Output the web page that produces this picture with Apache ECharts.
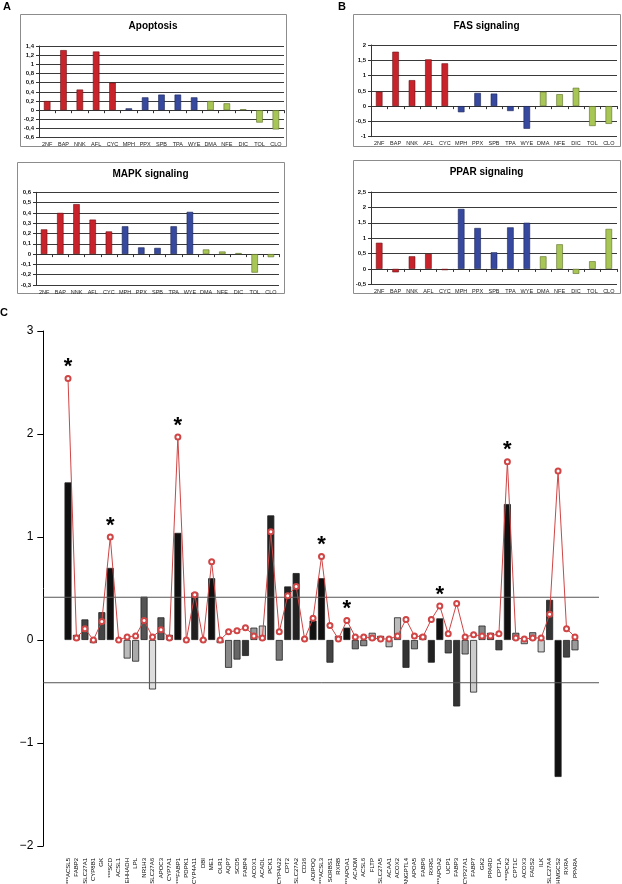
<!DOCTYPE html>
<html>
<head>
<meta charset="utf-8">
<script src="https://cdn.jsdelivr.net/npm/echarts@6/dist/echarts.min.js"></script>
<style>
html, body { margin: 0; padding: 0; background: #fff; }
#chart { width: 622px; height: 884px; }
</style>
</head>
<body>
<div id="chart"></div>
<script>
// compounds (same order in the four pathway panels), 0 = red, 1 = blue, 2 = green
const compounds = ['2NF', 'BAP', 'NNK', 'AFL', 'CYC', 'MPH', 'PPX', 'SPB', 'TPA', 'WYE', 'DMA', 'NFE', 'DIC', 'TOL', 'CLO'];
const compoundGroup = [0, 0, 0, 0, 0, 1, 1, 1, 1, 1, 2, 2, 2, 2, 2];

const apoptosis = [0.2, 1.31, 0.45, 1.28, 0.6, 0.04, 0.28, 0.34, 0.34, 0.28, 0.2, 0.15, 0.02, -0.27, -0.42];
const mapk = [0.24, 0.4, 0.485, 0.335, 0.22, 0.27, 0.065, 0.06, 0.27, 0.41, 0.045, 0.025, 0.01, -0.18, -0.03];
const fas = [0.47, 1.78, 0.85, 1.53, 1.4, -0.2, 0.43, 0.41, -0.16, -0.74, 0.47, 0.39, 0.6, -0.65, -0.58];
const ppar = [0.85, -0.11, 0.41, 0.49, -0.04, 1.95, 1.33, 0.54, 1.35, 1.5, 0.41, 0.8, -0.16, 0.25, 1.3];

// panel C, genes (*** = marked with a star)
const genes = ['***ACSL5', 'FABP2', 'SLC27A1', 'CYP8B1', 'GK', '***SCD', 'ACSL1', 'EHHADH', 'LPL', 'NR1H3',
  'SLC27A6', 'APOC3', 'CYP7A1', '***FABP1', 'PDPK1', 'CYP4A11', 'DBI', 'ME1', 'OLR1', 'AQP7',
  'SCD5', 'FABP4', 'ACOX1', 'ACADL', 'PCK1', 'CYP4A22', 'CPT2', 'SLC27A2', 'CD36', 'ADIPOQ',
  '***ACSL3', 'SORBS1', 'RXRB', '***APOA1', 'ACADM', 'ACSL6', 'FLTP', 'SLC27A5', 'ACAA1', 'ACOX2',
  'ANGPTL4', 'APOA5', 'FABP6', 'RXRG', '***APOA2', 'UCP1', 'FABP3', 'CYP27A1', 'FABP7', 'GK2',
  'PPARD', 'CPT1A', '***PCK2', 'CPT1C', 'ACOX3', 'FADS2', 'ILK', 'SLC27A4', 'HMGCS2', 'RXRA', 'PPARA'];
const geneBars = [1.53, 0.05, 0.2, -0.03, 0.27, 0.7, -0.01, -0.18, -0.21, 0.42, -0.48, 0.22, 0.05, 1.04,
  0.01, 0.46, 0.0, 0.6, -0.03, -0.27, -0.19, -0.155, 0.12, 0.14, 1.21, -0.2, 0.52, 0.65, 0.02, 0.19, 0.6, -0.22,
  0.04, 0.12, -0.09, -0.06, 0.07, 0.04, -0.07, 0.22, -0.27, -0.09, 0.05, -0.22, 0.21, -0.13, -0.645, -0.14, -0.51,
  0.14, 0.07, -0.1, 1.32, 0.07, -0.04, 0.075, -0.12, 0.39, -1.33, -0.17, -0.1];
const geneLine = [2.54, 0.02, 0.11, 0.0, 0.18, 1.0, 0.0, 0.03, 0.04, 0.19, 0.03, 0.1, 0.02, 1.97,
  0.0, 0.44, 0.0, 0.76, 0.0, 0.08, 0.09, 0.12, 0.04, 0.02, 1.05, 0.08, 0.43, 0.52, 0.01, 0.21, 0.81, 0.14,
  0.01, 0.19, 0.03, 0.03, 0.02, 0.01, 0.01, 0.04, 0.2, 0.04, 0.03, 0.2, 0.33, 0.06, 0.355, 0.03, 0.05,
  0.04, 0.04, 0.06, 1.73, 0.02, 0.01, 0.02, 0.02, 0.25, 1.64, 0.11, 0.03];
const thresholds = [0.415, -0.415];

// gray fill of each gene bar
const barShades = ['#111', '#333', '#444', '#aaa', '#444', '#111', '#999', '#bbb', '#aaa', '#555',
  '#ddd', '#555', '#444', '#111', '#333', '#222', '#333', '#111', '#ccc', '#888',
  '#666', '#333', '#999', '#ccc', '#222', '#777', '#222', '#222', '#333', '#111',
  '#111', '#444', '#bbb', '#111', '#777', '#888', '#bbb', '#999', '#bbb', '#bbb',
  '#333', '#888', '#444', '#222', '#111', '#555', '#333', '#999', '#ccc', '#888',
  '#555', '#444', '#111', '#888', '#bbb', '#999', '#ccc', '#333', '#111', '#444', '#999'];

const groupColors = ['#c8232b', '#36499e', '#a8c656'];
const groupBorders = ['#6a1014', '#1b2555', '#5b6d26'];
const FONT = '"Liberation Sans", Arial, sans-serif';

const grids = [], xAxes = [], yAxes = [], series = [], titles = [], graphics = [];

const comma = v => String(Math.round(v * 100) / 100).replace('.', ',');

function smallPanel(name, values, box, plot, yMin, yMax, step) {
  const idx = grids.length;
  grids.push({ left: plot.x, top: plot.y, width: plot.w, height: plot.h, outerBoundsMode: 'none' });
  xAxes.push({
    gridIndex: idx, type: 'category', data: compounds,
    axisLine: { onZero: true, lineStyle: { color: '#333', width: 1 } },
    axisTick: { show: true, length: 3, lineStyle: { color: '#333' } },
    axisLabel: { fontSize: 5.5, margin: 4, color: '#222', interval: 0, fontFamily: FONT }
  });
  yAxes.push({
    gridIndex: idx, type: 'value', min: yMin, max: yMax, interval: step,
    axisLine: { show: true, lineStyle: { color: '#333', width: 1 } },
    axisTick: { show: true, length: 3, lineStyle: { color: '#333' } },
    splitLine: { show: true, lineStyle: { color: '#3a3a3a', width: 1 } },
    axisLabel: { fontSize: 6, fontWeight: 'bold', color: '#111', margin: 5, fontFamily: FONT, formatter: comma }
  });
  series.push({
    type: 'bar', xAxisIndex: idx, yAxisIndex: idx, barWidth: '40%',
    data: values.map((v, i) => ({
      value: v,
      itemStyle: { color: groupColors[compoundGroup[i]], borderColor: groupBorders[compoundGroup[i]], borderWidth: 0.6 }
    }))
  });
  titles.push({
    text: name, left: box.x + box.w / 2, top: box.y + 7, textAlign: 'center', padding: 0,
    textStyle: { fontSize: 10, fontWeight: 'bold', color: '#000', fontFamily: FONT }
  });
  graphics.push({
    type: 'rect', shape: { x: box.x + 0.5, y: box.y + 0.5, width: box.w, height: box.h },
    style: { fill: 'none', stroke: '#8c8c8c', lineWidth: 1 }
  });
}

smallPanel('Apoptosis', apoptosis, { x: 20, y: 14, w: 266, h: 132 }, { x: 39, y: 46, w: 245, h: 91.7 }, -0.6, 1.4, 0.2);
smallPanel('MAPK signaling', mapk, { x: 17, y: 162, w: 267, h: 131 }, { x: 36, y: 192.3, w: 243, h: 92.7 }, -0.3, 0.6, 0.1);
smallPanel('FAS signaling', fas, { x: 353, y: 14, w: 267, h: 132 }, { x: 371, y: 45, w: 246, h: 91.7 }, -1, 2, 0.5);
smallPanel('PPAR signaling', ppar, { x: 353, y: 160, w: 267, h: 133 }, { x: 371, y: 192, w: 246, h: 92.3 }, -0.5, 2.5, 0.5);

// panel C: grid 4 holds the bars (one band per gene), grid 5 the axis and threshold lines
grids.push({ left: 63.8, right: 42.8, top: 331, bottom: 38, outerBoundsMode: 'none' });
grids.push({ left: 43.3, right: 23, top: 331, bottom: 38, outerBoundsMode: 'none' });

xAxes.push({
  gridIndex: 4, type: 'category', data: genes,
  axisLine: { show: false, onZero: false }, axisTick: { show: false },
  axisLabel: { rotate: 90, fontSize: 6, interval: 0, margin: 12, color: '#000', fontFamily: FONT }
});
yAxes.push({ gridIndex: 4, type: 'value', min: -2, max: 3, interval: 1, show: false });

xAxes.push({ gridIndex: 5, type: 'value', min: 0, max: 1, show: false });
yAxes.push({
  gridIndex: 5, type: 'value', min: -2, max: 3, interval: 1,
  axisLine: { show: true, lineStyle: { color: '#000', width: 1 } },
  axisTick: { show: true, length: 6, lineStyle: { color: '#000' } },
  splitLine: { show: false },
  axisLabel: { fontSize: 12, color: '#000', margin: 10, fontFamily: FONT, formatter: v => String(v).replace('-', '\u2212') }
});

series.push({
  type: 'bar', xAxisIndex: 4, yAxisIndex: 4, barWidth: '83%', z: 2,
  data: geneBars.map((v, i) => ({ value: v, itemStyle: { color: barShades[i], borderColor: '#222', borderWidth: 0.8 } }))
});

thresholds.forEach(t => {
  series.push({
    type: 'line', xAxisIndex: 5, yAxisIndex: 5, symbol: 'none', z: 3,
    lineStyle: { color: '#555', width: 1 },
    data: [[0, t], [1, t]]
  });
});

series.push({
  type: 'line', xAxisIndex: 4, yAxisIndex: 4, z: 4,
  symbol: 'emptyCircle', symbolSize: 5, showAllSymbol: true,
  lineStyle: { color: '#d04545', width: 1 },
  itemStyle: { color: '#d04545', borderWidth: 1 },
  data: geneLine.map((v, i) => {
    if (!genes[i].startsWith('***')) return v;
    return {
      value: v,
      label: { show: true, position: 'top', distance: -3, formatter: '*', fontSize: 22, fontWeight: 'bold', color: '#000', fontFamily: FONT }
    };
  })
});

// panel letters
[['A', 3, 1], ['B', 338, 1], ['C', 0, 307]].forEach(([t, x, y]) => {
  graphics.push({ type: 'text', left: x, top: y, style: { text: t, font: 'bold 11px ' + FONT, fill: '#000' } });
});

const myChart = echarts.init(document.getElementById('chart'));
myChart.setOption({
  animation: false,
  backgroundColor: '#fff',
  title: titles,
  grid: grids,
  xAxis: xAxes,
  yAxis: yAxes,
  series: series,
  graphic: graphics
});
</script>
</body>
</html>
